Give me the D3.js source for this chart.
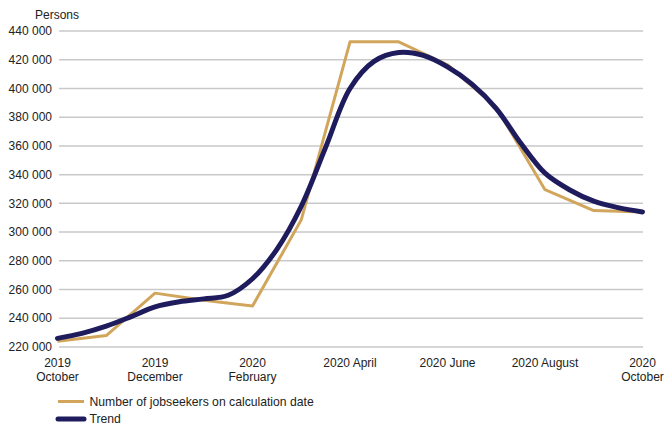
<!DOCTYPE html>
<html>
<head>
<meta charset="utf-8">
<script src="https://cdn.jsdelivr.net/npm/d3@7"></script>
<style>
  html, body { margin: 0; padding: 0; background: #fff; }
  svg { display: block; font-family: "Liberation Sans", Arial, sans-serif; }
</style>
</head>
<body>
<svg id="chart" width="664" height="428"></svg>
<script>
// ---- Data ----
const months = ["2019 Oct","2019 Nov","2019 Dec","2020 Jan","2020 Feb","2020 Mar","2020 Apr","2020 May","2020 Jun","2020 Jul","2020 Aug","2020 Sep","2020 Oct"];
const jobseekers = [224000, 228000, 257500, 252500, 248500, 308500, 432500, 432500, 416500, 387000, 329500, 315000, 314000];
// Trend sampled every half month (month offset from 2019 October)
const trendOffsets = [0,0.5,1,1.5,2,2.5,3,3.5,4,4.5,5,5.5,6,6.5,7,7.5,8,8.5,9,9.5,10,10.5,11,11.5,12];
const trendValues = [226000,229500,234500,241000,248000,251500,253500,256000,267500,288000,318000,359000,400000,419000,425000,423000,415000,403000,386000,362000,341000,329500,321500,317000,314000];
const xTickPos = [0, 2, 4, 6, 8, 10, 12];
const xTickLabels = [["2019","October"],["2019","December"],["2020","February"],["2020 April"],["2020 June"],["2020 August"],["2020","October"]];
const yTicks = [220000,240000,260000,280000,300000,320000,340000,360000,380000,400000,420000,440000];
const yUnit = "Persons";
const seriesNames = ["Number of jobseekers on calculation date", "Trend"];

// ---- Chart ----
const gold = "#D1A65C", navy = "#1F1C5E";
const svg = d3.select("#chart");
const x = d3.scaleLinear().domain([0, 12]).range([57.5, 642.5]);
const y = d3.scaleLinear().domain([220000, 440000]).range([347, 31]);
const fmt = v => d3.format(",")(v).replace(/,/g, " ");

// gridlines
svg.append("g").selectAll("line").data(yTicks).join("line")
  .attr("x1", 59).attr("x2", 643)
  .attr("y1", d => y(d)).attr("y2", d => y(d))
  .attr("stroke", "#c9c9c9").attr("stroke-width", 1.5);

// y labels
svg.append("g").selectAll("text").data(yTicks).join("text")
  .attr("x", 52).attr("y", d => y(d)).attr("dy", "0.35em")
  .attr("text-anchor", "end").attr("font-size", 12).attr("fill", "#222")
  .text(fmt);

svg.append("text").attr("x", 35).attr("y", 15).attr("dy", "0.35em")
  .attr("font-size", 12).attr("fill", "#222").text(yUnit);

// x labels
const xl = svg.append("g").selectAll("text").data(xTickPos).join("text")
  .attr("x", d => x(d)).attr("text-anchor", "middle")
  .attr("font-size", 12).attr("fill", "#222");
xl.each(function(d, i) {
  const t = d3.select(this);
  xTickLabels[i].forEach((s, j) => {
    t.append("tspan").attr("x", x(d)).attr("y", 366.5 + j * 14).text(s);
  });
});

// lines
const gLine = d3.line().x((d, i) => x(i)).y(d => y(d));
svg.append("path").datum(jobseekers)
  .attr("d", gLine).attr("fill", "none")
  .attr("stroke", gold).attr("stroke-width", 3).attr("stroke-linejoin", "round");

const tLine = d3.line().x((d, i) => x(trendOffsets[i])).y(d => y(d)).curve(d3.curveCatmullRom.alpha(0.5));
svg.append("path").datum(trendValues)
  .attr("d", tLine).attr("fill", "none")
  .attr("stroke", navy).attr("stroke-width", 5).attr("stroke-linecap", "round").attr("stroke-linejoin", "round");

// legend
const leg = svg.append("g");
[[gold, 3], [navy, 5]].forEach((s, i) => {
  const yy = 401.5 + i * 17.5;
  leg.append("line").attr("x1", 58).attr("x2", 84).attr("y1", yy).attr("y2", yy)
    .attr("stroke", s[0]).attr("stroke-width", s[1]).attr("stroke-linecap", i ? "round" : "butt");
  leg.append("text").attr("x", 89.5).attr("y", yy).attr("dy", "0.35em")
    .attr("font-size", 12.2).attr("fill", "#222").text(seriesNames[i]);
});
</script>
</body>
</html>
